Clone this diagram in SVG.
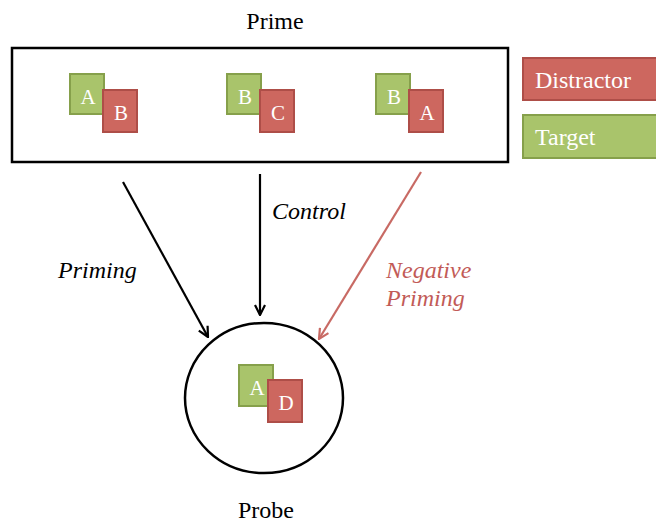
<svg xmlns="http://www.w3.org/2000/svg" width="656" height="523" viewBox="0 0 656 523">
<style>
.t{font-family:"Liberation Serif","Times New Roman",serif;font-size:24px;fill:#000}
.it{font-family:"Liberation Serif","DejaVu Serif",serif;font-size:24px;font-style:italic}
.sq{font-family:"Liberation Serif","Times New Roman",serif;font-size:21px;fill:#fff;text-anchor:middle}
.g{fill:#A9C46B;stroke:#86A04B;stroke-width:2}
.r{fill:#CD675F;stroke:#AE4E48;stroke-width:2}
.lg{font-family:"Liberation Serif","Times New Roman",serif;font-size:24px;fill:#fff}
</style>
<defs>
<marker id="ab" viewBox="0 0 12 12" refX="11" refY="6" markerWidth="12" markerHeight="12" markerUnits="userSpaceOnUse" orient="auto">
<path d="M1,1 L11,6 L1,11" fill="none" stroke="#000" stroke-width="2.2"/>
</marker>
<marker id="ar" viewBox="0 0 12 12" refX="11" refY="6" markerWidth="12" markerHeight="12" markerUnits="userSpaceOnUse" orient="auto">
<path d="M1,1 L11,6 L1,11" fill="none" stroke="#C86A64" stroke-width="2.2"/>
</marker>
</defs>
<rect width="656" height="523" fill="#fff"/>
<g id="prime">
<rect x="12" y="48" width="496" height="114" fill="#fff" stroke="#000" stroke-width="2.5"/>
<text class="t" x="275" y="29" text-anchor="middle">Prime</text>
</g>
<g id="pair1">
<rect class="g" x="70" y="74" width="34" height="40"/>
<text class="sq" x="88" y="104">A</text>
<rect class="r" x="103" y="90" width="34" height="42"/>
<text class="sq" x="121" y="120">B</text>
</g>
<g id="pair2">
<rect class="g" x="227" y="74" width="34" height="40"/>
<text class="sq" x="245" y="104">B</text>
<rect class="r" x="260" y="90" width="34" height="42"/>
<text class="sq" x="278" y="120">C</text>
</g>
<g id="pair3">
<rect class="g" x="376" y="74" width="34" height="40"/>
<text class="sq" x="394" y="104">B</text>
<rect class="r" x="409" y="90" width="34" height="42"/>
<text class="sq" x="427" y="120">A</text>
</g>
<g id="legend-distractor">
<rect class="r" x="523" y="58" width="140" height="42"/>
<text class="lg" x="535" y="88">Distractor</text>
</g>
<g id="legend-target">
<rect class="g" x="523" y="115" width="140" height="43"/>
<text class="lg" x="535" y="145">Target</text>
</g>
<g id="probe">
<ellipse cx="264" cy="398" rx="79" ry="75" fill="#fff" stroke="#000" stroke-width="2.5"/>
<rect class="g" x="239" y="365" width="34" height="41"/>
<text class="sq" x="257" y="395">A</text>
<rect class="r" x="268" y="380" width="34" height="42"/>
<text class="sq" x="286" y="410">D</text>
<text class="t" x="266" y="518" text-anchor="middle">Probe</text>
</g>
<g id="connectors">
<line x1="123" y1="182" x2="208" y2="337" stroke="#000" stroke-width="2.2" marker-end="url(#ab)"/>
<line x1="260" y1="174" x2="260" y2="315" stroke="#000" stroke-width="2.2" marker-end="url(#ab)"/>
<line x1="421" y1="172" x2="319" y2="339" stroke="#C86A64" stroke-width="2.2" marker-end="url(#ar)"/>
<text class="it" x="58" y="278" fill="#000" font-family="Liberation Serif" font-style="italic">Priming</text>
<text class="it" x="272" y="219" fill="#000" font-family="Liberation Serif" font-style="italic">Control</text>
<text class="it" x="386" y="278" fill="#C25B57" font-family="Liberation Serif" font-style="italic">Negative</text>
<text class="it" x="386" y="306" fill="#C25B57" font-family="Liberation Serif" font-style="italic">Priming</text>
</g>
</svg>
